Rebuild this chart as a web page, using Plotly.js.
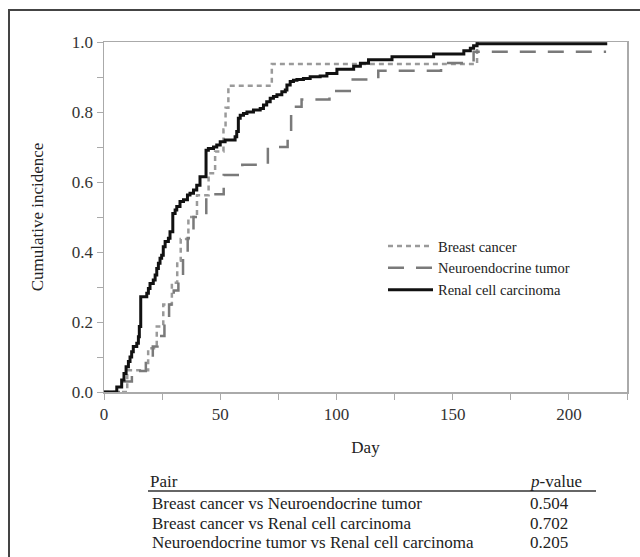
<!DOCTYPE html>
<html>
<head>
<meta charset="utf-8">
<script src="https://cdn.plot.ly/plotly-3.0.1.min.js"></script>
<style>
html,body{margin:0;padding:0;background:#fff;}
#chart{width:640px;height:557px;}
</style>
</head>
<body>
<div id="chart"></div>
<script>
// ---- data ----
const seriesNames = ["Breast cancer", "Neuroendocrine tumor", "Renal cell carcinoma"];

const breastDays = [0, 10, 19, 22.7, 25.5, 29.2, 31.5, 33, 36.3, 40, 45, 47.8, 51.4, 52.3, 53.5, 72.2, 160.5, 161.5];
const breastVals = [0, 0.0625, 0.125, 0.1875, 0.25, 0.3125, 0.375, 0.4375, 0.5, 0.5625, 0.625, 0.6875, 0.75, 0.8125, 0.875, 0.9375, 1.0, 1.0];

const neuroDays = [0, 8, 12, 18, 21, 23, 26, 28, 30, 32, 34, 36, 38.5, 44, 51.5, 59.5, 70.5, 79, 80.5, 85, 97, 107, 118, 145, 159, 216];
const neuroVals = [0, 0.03, 0.06, 0.09, 0.13, 0.16, 0.2, 0.25, 0.29, 0.33, 0.39, 0.44, 0.5, 0.565, 0.62, 0.649, 0.70, 0.73, 0.815, 0.836, 0.86, 0.893, 0.918, 0.94, 0.972, 0.972];

const renalDays = [0, 5.5, 7.6, 8.6, 9.5, 10.5, 11.2, 11.9, 12.6, 14.1,
  14.8, 15.2, 15.8, 18.4, 19.1, 19.8, 21.2, 22, 22.7, 23.4,
  24.1, 24.8, 25.5, 26.3, 27.7, 28.4, 29.6, 30.6, 31.3, 32.7,
  34.2, 35.9, 37, 38.5, 39.9, 41.3, 43.9, 44.9, 47.1, 48.5,
  50, 52.1, 56.4, 57.1, 57.8, 58.6, 60, 61.5, 64.3, 67.2,
  68.6, 70, 71.5, 72.9, 74.4, 76.5, 78, 78.7, 80.1, 81.5,
  83, 85.8, 88.7, 93, 95.9, 100.2, 107.4, 110.3, 113.8, 123.9,
  141.8, 154.8, 157.6, 159, 160.5, 216.5];
const renalVals = [0, 0.014, 0.034, 0.053, 0.072, 0.087, 0.10, 0.115, 0.13, 0.139,
  0.158, 0.187, 0.272, 0.282, 0.296, 0.31, 0.32, 0.334, 0.353, 0.368,
  0.382, 0.391, 0.415, 0.43, 0.439, 0.458, 0.51, 0.52, 0.53, 0.544,
  0.549, 0.563, 0.568, 0.577, 0.591, 0.615, 0.691, 0.696, 0.70, 0.706,
  0.715, 0.72, 0.729, 0.744, 0.782, 0.791, 0.796, 0.80, 0.806, 0.81,
  0.82, 0.829, 0.839, 0.844, 0.849, 0.858, 0.863, 0.877, 0.887, 0.891,
  0.893, 0.896, 0.901, 0.903, 0.91, 0.922, 0.931, 0.939, 0.949, 0.958,
  0.966, 0.975, 0.982, 0.989, 0.995, 0.995];

const tablePairs = ["Breast cancer vs Neuroendocrine tumor", "Breast cancer vs Renal cell carcinoma", "Neuroendocrine tumor vs Renal cell carcinoma"];
const tablePvalues = ["0.504", "0.702", "0.205"];
const tableHeader = ["Pair", "<i>p</i>-value"];

// ---- layout helpers (pixel -> paper) ----
const L = 104, R = 13, T = 42, B = 165, W = 640, H = 557;
const pw = W - L - R, ph = H - T - B;
const px = x => (x - L) / pw;
const py = y => (H - B - y) / ph;

const serif = "Liberation Serif, Times New Roman, serif";
const tblFont = {family: serif, size: 17, color: "#222"};

const traces = [
  {x: breastDays, y: breastVals, name: seriesNames[0], mode: "lines",
   line: {shape: "hv", color: "#9a9a9a", width: 2.5, dash: "5px,4px"}},
  {x: neuroDays, y: neuroVals, name: seriesNames[1], mode: "lines",
   line: {shape: "hv", color: "#7a7a7a", width: 2.5, dash: "16px,12px"}},
  {x: renalDays, y: renalVals, name: seriesNames[2], mode: "lines",
   line: {shape: "hv", color: "#111", width: 3}}
];

const annotations = [];
annotations.push({xref: "paper", yref: "paper", x: px(148), y: py(481), xanchor: "left", yanchor: "middle",
  text: tableHeader[0], showarrow: false, font: tblFont});
annotations.push({xref: "paper", yref: "paper", x: px(528), y: py(481), xanchor: "left", yanchor: "middle",
  text: tableHeader[1], showarrow: false, font: tblFont});
const rowY = [503, 523, 542];
tablePairs.forEach((p, i) => {
  annotations.push({xref: "paper", yref: "paper", x: px(150), y: py(rowY[i]), xanchor: "left", yanchor: "middle",
    text: p, showarrow: false, font: tblFont});
  annotations.push({xref: "paper", yref: "paper", x: px(528), y: py(rowY[i]), xanchor: "left", yanchor: "middle",
    text: tablePvalues[i], showarrow: false, font: tblFont});
});

const layout = {
  width: W, height: H,
  margin: {l: L, r: R, t: T, b: B},
  paper_bgcolor: "#fff", plot_bgcolor: "#fff",
  font: {family: serif, size: 17, color: "#333"},
  showlegend: true,
  legend: {x: px(383), y: py(230), xanchor: "left", yanchor: "top", itemwidth: 45,
    bgcolor: "rgba(0,0,0,0)", font: {family: serif, size: 14.5, color: "#222"}, tracegroupgap: 0},
  xaxis: {range: [0, 225], tick0: 0, dtick: 50, ticks: "outside", ticklen: 6, tickcolor: "#aaa",
    showline: true, linecolor: "#aaa", linewidth: 1.5, mirror: true, showgrid: false, zeroline: false,
    minor: {dtick: 25, ticks: "outside", ticklen: 6, tickcolor: "#aaa"},
    tickfont: {family: serif, size: 17, color: "#333"},
    title: {text: "Day", font: {family: serif, size: 17, color: "#222"}, standoff: 18}},
  yaxis: {range: [0, 1], tick0: 0, dtick: 0.2, tickformat: ".1f", ticks: "outside", ticklen: 6, tickcolor: "#aaa",
    showline: true, linecolor: "#aaa", linewidth: 1.5, mirror: true, showgrid: false, zeroline: false,
    minor: {dtick: 0.1, ticks: "outside", ticklen: 6, tickcolor: "#aaa"},
    tickfont: {family: serif, size: 17, color: "#333"},
    title: {text: "Cumulative incidence", font: {family: serif, size: 17, color: "#222"}, standoff: 24}},
  annotations: annotations,
  shapes: [
    {type: "line", xref: "paper", yref: "paper", x0: px(148), x1: px(596), y0: py(491), y1: py(491),
     line: {color: "#333", width: 1.5}},
    {type: "rect", xref: "paper", yref: "paper", x0: px(9), x1: px(700), y0: py(10), y1: py(620),
     line: {color: "#444", width: 2}, fillcolor: "rgba(0,0,0,0)"}
  ]
};

Plotly.newPlot("chart", traces, layout, {displayModeBar: false, staticPlot: true});
</script>
</body>
</html>
